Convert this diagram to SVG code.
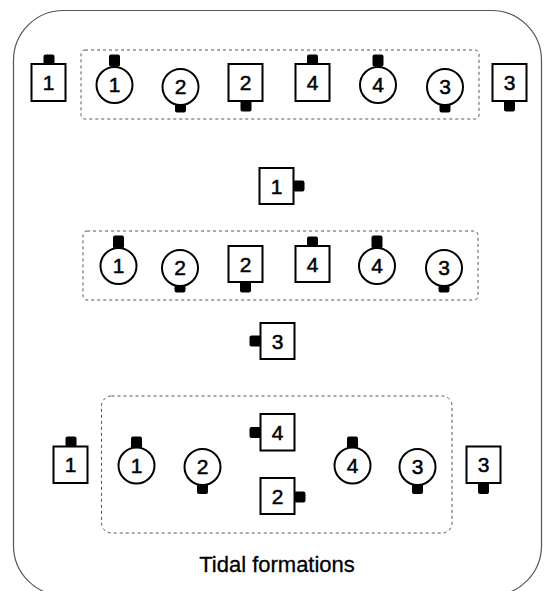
<svg xmlns="http://www.w3.org/2000/svg" width="545" height="591" viewBox="0 0 545 591">
<style>
.frame{fill:#fff;stroke:#555;stroke-width:1.2}
.grp{fill:none;stroke:#555;stroke-width:1;stroke-dasharray:3 3}
.sq,.ci{fill:#fff;stroke:#000;stroke-width:2}
.k{fill:#000}
.t{font-family:"Liberation Sans",Arial,sans-serif;font-size:21px;text-anchor:middle;fill:#000;stroke:#000;stroke-width:0.5}
.cap{font-family:"Liberation Sans",Arial,sans-serif;font-size:22px;text-anchor:middle;fill:#000;stroke:#000;stroke-width:0.3}
</style>
<rect class="frame" x="13.5" y="10.5" width="528" height="585" rx="50"/>
<g id="groups">
<rect class="grp" x="81" y="50" width="398" height="69" rx="4"/>
<rect class="grp" x="83" y="231" width="395" height="69" rx="4"/>
<rect class="grp" x="101.5" y="396" width="350.5" height="137" rx="10"/>
</g>
<g id="connectors"></g>
<!-- row 1 -->
<g id="r1-s1"><rect class="k" x="43.5" y="54.5" width="11" height="10" rx="2"/><rect class="sq" x="31.5" y="64" width="34" height="37"/><text class="t" x="48.5" y="90">1</text></g>
<g id="r1-c1"><rect class="k" x="109" y="54.5" width="11" height="12" rx="2"/><circle class="ci" cx="114.5" cy="85" r="18"/><text class="t" x="114.5" y="92">1</text></g>
<g id="r1-c2"><rect class="k" x="175" y="101" width="11" height="11.5" rx="2"/><circle class="ci" cx="180.5" cy="87" r="18"/><text class="t" x="180.5" y="94">2</text></g>
<g id="r1-s2"><rect class="k" x="240.5" y="100" width="11" height="11.5" rx="2"/><rect class="sq" x="228.5" y="64" width="34" height="37"/><text class="t" x="245.5" y="90">2</text></g>
<g id="r1-s4"><rect class="k" x="307" y="54.5" width="11" height="10" rx="2"/><rect class="sq" x="295.5" y="64" width="34" height="37"/><text class="t" x="312.5" y="90">4</text></g>
<g id="r1-c4"><rect class="k" x="372.5" y="54.5" width="11" height="12" rx="2"/><circle class="ci" cx="378" cy="85" r="18"/><text class="t" x="378" y="92">4</text></g>
<g id="r1-c3"><rect class="k" x="439.5" y="101" width="11" height="11.5" rx="2"/><circle class="ci" cx="445" cy="87" r="18"/><text class="t" x="445" y="94">3</text></g>
<g id="r1-s3"><rect class="k" x="504" y="100" width="11" height="11.5" rx="2"/><rect class="sq" x="492.5" y="64" width="34" height="37"/><text class="t" x="509.5" y="90">3</text></g>
<!-- row 2 -->
<g id="r2-s1"><rect class="k" x="293" y="180.5" width="11.5" height="11" rx="2"/><rect class="sq" x="259.5" y="168" width="34" height="36"/><text class="t" x="276.5" y="194">1</text></g>
<g id="r2-c1"><rect class="k" x="113" y="235.5" width="11" height="13" rx="2"/><circle class="ci" cx="118.5" cy="266" r="18"/><text class="t" x="118.5" y="273">1</text></g>
<g id="r2-c2"><rect class="k" x="174.5" y="281" width="11" height="11.5" rx="2"/><circle class="ci" cx="180" cy="268" r="18"/><text class="t" x="180" y="275">2</text></g>
<g id="r2-s2"><rect class="k" x="240" y="281" width="11" height="11.5" rx="2"/><rect class="sq" x="228.5" y="246" width="34" height="36"/><text class="t" x="245.5" y="272">2</text></g>
<g id="r2-s4"><rect class="k" x="307" y="236.5" width="11" height="10" rx="2"/><rect class="sq" x="295.5" y="246" width="34" height="36"/><text class="t" x="312.5" y="272">4</text></g>
<g id="r2-c4"><rect class="k" x="371.5" y="235.5" width="11" height="13" rx="2"/><circle class="ci" cx="377" cy="266" r="18"/><text class="t" x="377" y="273">4</text></g>
<g id="r2-c3"><rect class="k" x="438.5" y="281" width="11" height="11.5" rx="2"/><circle class="ci" cx="444" cy="268" r="18"/><text class="t" x="444" y="275">3</text></g>
<g id="r2-s3"><rect class="k" x="249.5" y="335.5" width="11.5" height="11" rx="2"/><rect class="sq" x="260.5" y="323" width="34" height="36"/><text class="t" x="277.5" y="349">3</text></g>
<!-- row 3 -->
<g id="r3-s1"><rect class="k" x="65.5" y="436.5" width="11" height="10.5" rx="2"/><rect class="sq" x="53.5" y="446.5" width="34" height="36.5"/><text class="t" x="70.5" y="472">1</text></g>
<g id="r3-c1"><rect class="k" x="131" y="436.5" width="11" height="12.5" rx="2"/><circle class="ci" cx="136.5" cy="465.5" r="18"/><text class="t" x="136.5" y="472.5">1</text></g>
<g id="r3-c2"><rect class="k" x="197" y="482" width="11" height="12" rx="2"/><circle class="ci" cx="202.5" cy="467" r="18"/><text class="t" x="202.5" y="474">2</text></g>
<g id="r3-s4"><rect class="k" x="249.5" y="427" width="11.5" height="11" rx="2"/><rect class="sq" x="260.5" y="414" width="34" height="36.5"/><text class="t" x="277.5" y="440">4</text></g>
<g id="r3-s2"><rect class="k" x="294" y="491.5" width="11.5" height="11" rx="2"/><rect class="sq" x="260.5" y="478" width="34" height="36"/><text class="t" x="277.5" y="504">2</text></g>
<g id="r3-c4"><rect class="k" x="347" y="436.5" width="11" height="12.5" rx="2"/><circle class="ci" cx="352.5" cy="465.5" r="18"/><text class="t" x="352.5" y="472.5">4</text></g>
<g id="r3-c3"><rect class="k" x="412" y="482" width="11" height="12" rx="2"/><circle class="ci" cx="417.5" cy="467" r="18"/><text class="t" x="417.5" y="474">3</text></g>
<g id="r3-s3"><rect class="k" x="478" y="482" width="11" height="12" rx="2"/><rect class="sq" x="466.5" y="446.5" width="34" height="36.5"/><text class="t" x="483.5" y="472">3</text></g>
<text class="cap" x="277" y="572">Tidal formations</text>
</svg>
